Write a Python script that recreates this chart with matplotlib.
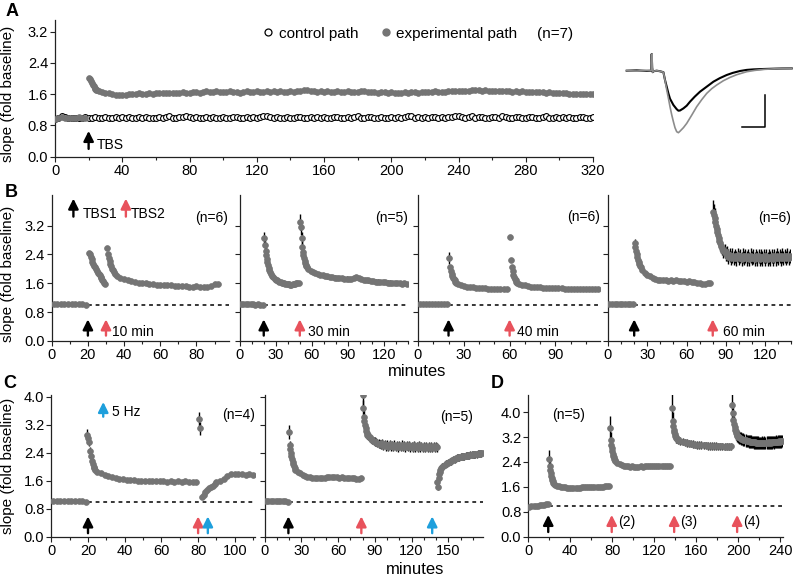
import numpy as np
import matplotlib
matplotlib.use("Agg")
import matplotlib.pyplot as plt
from matplotlib.lines import Line2D

plt.rcParams['font.family'] = ['Liberation Sans', 'DejaVu Sans']
plt.rcParams['font.size'] = 10

### Data (slope, fold baseline)
# segments are sampled on a regular grid: (start minute, step, values)

# A - control path, every 2 min from 0
a_ctrl = [0.97, 0.99, 1.03, 1.01, 0.99, 0.98, 1.00, 0.99, 1.00, 1.01,
          0.99, 0.98, 1.01, 1.00, 0.99, 1.02, 1.00, 0.98, 1.01, 1.00,
          1.02, 0.99, 1.01, 0.98, 1.00, 1.02, 0.99, 1.01, 1.00, 0.98,
          1.00, 1.02, 0.99, 1.01, 1.03, 0.99, 1.00, 1.02, 1.01, 1.04,
          1.01, 0.99, 1.02, 1.00, 0.98, 1.01, 0.99, 1.02, 1.00, 0.99,
          1.01, 1.00, 0.98, 1.01, 1.02, 0.99, 1.00, 1.01, 0.99, 1.02,
          1.00, 1.02, 1.04, 1.05, 1.01, 0.99, 1.02, 1.00, 0.98, 1.01,
          1.00, 0.99, 1.01, 1.02, 1.00, 0.98, 1.01, 1.00, 1.02, 0.99,
          1.01, 1.00, 0.99, 1.02, 1.01, 0.98, 1.00, 1.02, 0.99, 1.01,
          1.03, 1.00, 0.99, 1.01, 1.02, 1.00, 0.98, 1.01, 1.00, 0.99,
          1.01, 1.00, 1.02, 0.99, 1.01, 1.05, 1.03, 1.00, 1.02, 0.99,
          1.01, 1.00, 1.02, 1.01, 0.99, 1.02, 1.00, 1.01, 1.02, 1.05,
          1.04, 1.02, 1.00, 1.01, 1.03, 0.99, 1.01, 1.02, 1.00, 0.99,
          1.01, 1.02, 1.00, 1.03, 1.01, 0.99, 1.00, 1.02, 1.01, 0.99,
          1.00, 1.02, 1.01, 0.99, 1.00, 1.01, 1.03, 1.00, 0.99, 1.01,
          1.00, 1.02, 0.99, 1.01, 1.00, 0.99, 1.01, 1.02, 1.00, 0.99,
          1.01]
# A - experimental path
a_exp_base = [0.97, 0.99, 1.01, 0.98, 1.00, 0.99, 1.00, 1.01, 0.99, 1.00]
a_exp_early = [2.02, 1.98, 1.93, 1.88, 1.84, 1.80, 1.77, 1.74, 1.72, 1.70]
a_exp_late = [1.68, 1.66, 1.63, 1.62, 1.60, 1.59, 1.58, 1.57, 1.58, 1.60,
              1.61, 1.60, 1.62, 1.61, 1.60, 1.62, 1.61, 1.62, 1.63, 1.62,
              1.64, 1.63, 1.62, 1.64, 1.63, 1.65, 1.64, 1.63, 1.65, 1.66,
              1.64, 1.66, 1.67, 1.66, 1.65, 1.67, 1.66, 1.65, 1.66, 1.67,
              1.65, 1.66, 1.64, 1.66, 1.67, 1.65, 1.66, 1.67, 1.66, 1.65,
              1.67, 1.66, 1.68, 1.66, 1.67, 1.65, 1.66, 1.67, 1.66, 1.68,
              1.69, 1.71, 1.72, 1.69, 1.67, 1.66, 1.67, 1.66, 1.67, 1.65,
              1.66, 1.67, 1.66, 1.65, 1.67, 1.66, 1.65, 1.66, 1.67, 1.68,
              1.66, 1.65, 1.66, 1.64, 1.65, 1.66, 1.64, 1.65, 1.64, 1.63,
              1.64, 1.65, 1.64, 1.65, 1.66, 1.64, 1.65, 1.66, 1.65, 1.66,
              1.67, 1.66, 1.65, 1.66, 1.67, 1.68, 1.67, 1.68, 1.69, 1.68,
              1.69, 1.70, 1.71, 1.70, 1.69, 1.70, 1.69, 1.68, 1.69, 1.68,
              1.67, 1.68, 1.67, 1.66, 1.67, 1.66, 1.67, 1.66, 1.65, 1.66,
              1.65, 1.66, 1.65, 1.64, 1.65, 1.64, 1.63, 1.64, 1.63, 1.62,
              1.61, 1.60, 1.61, 1.60, 1.61, 1.60, 1.61, 1.60]

# A inset - example EPSCs (time, amplitude in arbitrary units)
tr_black_t = [0, 10, 20, 24.5, 25, 25.5, 26, 27, 30, 33, 36.7, 38.3, 40, 41.7, 43.3, 46.7, 50, 51.7,
              53.3, 56.7, 60, 63.3, 68, 73.3, 80, 86.7, 93, 100, 106, 113.3, 120, 126.7, 136.7, 146.7, 155, 165]
tr_black = [0, 0.3, -0.2, 0, 16.7, 3, -1.5, -0.5, 0, -0.5, -1.5, -9.3, -16, -22.7, -28, -34.3, -38.5, -40,
            -39.8, -37.7, -35, -31, -26, -21, -16, -11, -7.5, -4.3, -2.2, -0.3, 0.8, 1.3, 1.7, 2, 2.2, 2.3]
tr_gray_t = [0, 10, 20, 24.5, 25, 25.5, 26, 27, 30, 33, 36.7, 38.3, 40, 41.7, 43.3, 45, 46.7, 48.3, 50,
             51.7, 53.3, 56.7, 60, 65, 70, 75, 80, 85, 90, 96.7, 103.3, 110, 120, 128, 136.7, 150, 165]
tr_gray = [0, -0.3, 0.2, 0, 16.7, 3, -1.5, -0.5, 0, -0.5, -1.5, -9.5, -19, -27.5, -36, -44, -51, -57, -61,
           -62, -60.5, -57, -52.7, -44.5, -36, -29, -22.7, -18, -14.3, -10, -6.7, -4, -1, 0.3, 1.3, 2, 2.3]

# B1 - TBS2 10 min after TBS1
b1_base = [1.04, 1.03, 1.04, 1.03, 1.02, 1.04, 1.03, 1.04, 1.03, 1.00]
b1_s1 = [2.45, 2.40, 2.34, 2.27, 2.20, 2.14, 2.09, 2.04, 1.99, 1.95,
         1.90, 1.86, 1.82, 1.78, 1.74, 1.70, 1.66, 1.62, 1.59]
b1_s2_early = [2.57, 2.40, 2.30, 2.22, 2.14, 2.07, 2.01, 1.96, 1.91, 1.87]
b1_s2_late = [1.80, 1.75, 1.71, 1.68, 1.66, 1.64, 1.62, 1.61, 1.60, 1.58,
              1.57, 1.56, 1.56, 1.55, 1.54, 1.54, 1.53, 1.53, 1.52, 1.52,
              1.51, 1.51, 1.52, 1.51, 1.50, 1.51, 1.53, 1.57, 1.59]

# B2 - 30 min
b2_base = [1.03, 1.02, 1.03, 1.02, 1.03, 1.02, 1.01, 1.02, 1.01, 1.00]
b2_s1_early = [2.85, 2.65, 2.50, 2.38, 2.27, 2.18, 2.10, 2.03, 1.97, 1.92]
b2_s1_late = [1.86, 1.81, 1.77, 1.73, 1.70, 1.68, 1.66, 1.65, 1.64, 1.62,
              1.61, 1.60, 1.59, 1.58, 1.58, 1.57, 1.56, 1.56, 1.57, 1.58,
              1.59, 1.60, 1.60, 1.61]
b2_s1_sem = [0.16, 0.14, 0.12, 0.11, 0.10, 0.09, 0.09, 0.08, 0.08, 0.07]
b2_s2_early = [3.31, 3.15, 2.85, 2.62, 2.48, 2.38, 2.30, 2.23, 2.17, 2.12, 2.08, 2.04]
b2_s2_late = [2.00, 1.95, 1.91, 1.88, 1.86, 1.84, 1.82, 1.80, 1.79, 1.78,
              1.77, 1.76, 1.75, 1.75, 1.74, 1.73, 1.73, 1.72, 1.72, 1.74,
              1.77, 1.75, 1.72, 1.70, 1.69, 1.68, 1.67, 1.66, 1.65, 1.65,
              1.64, 1.63, 1.63, 1.62, 1.62, 1.61, 1.61, 1.60, 1.60, 1.59,
              1.60, 1.59]
b2_s2_sem = [0.22, 0.20, 0.18, 0.15, 0.13, 0.12, 0.11, 0.10, 0.09, 0.09, 0.08, 0.08]

# B3 - 40 min
b3_base = [1.02, 1.03, 1.02, 1.03, 1.03, 1.02, 1.03, 1.02, 1.03, 1.02]
b3_s1_early = [2.31, 2.05, 1.95, 1.87, 1.81, 1.76, 1.72, 1.68, 1.65, 1.62]
b3_s1_late = [1.59, 1.56, 1.53, 1.51, 1.50, 1.49, 1.48, 1.47, 1.46, 1.46,
              1.45, 1.45, 1.44, 1.44, 1.44, 1.43, 1.43]
b3_s1_sem = [0.17, 0.06, 0.05, 0.04, 0.04, 0.03, 0.03, 0.03, 0.03, 0.03]
b3_s2_early = [2.88, 2.25, 2.05, 1.93, 1.84, 1.77, 1.72, 1.68, 1.64, 1.61]
b3_s2_late = [1.58, 1.56, 1.54, 1.52, 1.51, 1.50, 1.49, 1.49, 1.48, 1.48,
              1.47, 1.47, 1.46, 1.46, 1.46, 1.45, 1.45, 1.45, 1.44, 1.45,
              1.44, 1.44, 1.45, 1.44, 1.44, 1.45, 1.44]

# B4 - 60 min
b4_base = [1.02, 1.03, 1.02, 1.03, 1.02, 1.03, 1.02, 1.03, 1.03, 1.02]
b4_s1_early = [2.71, 2.60, 2.50, 2.41, 2.33, 2.26, 2.20, 2.14, 2.09, 2.04]
b4_s1_late = [1.97, 1.90, 1.84, 1.79, 1.75, 1.72, 1.70, 1.69, 1.68, 1.68,
              1.67, 1.68, 1.67, 1.68, 1.67, 1.66, 1.66, 1.65, 1.66, 1.65,
              1.63, 1.61, 1.60, 1.58, 1.59, 1.61, 1.62]
b4_s1_sem = [0.12, 0.10, 0.08, 0.07, 0.06, 0.05, 0.05, 0.04, 0.04, 0.04]
b4_s2_early = [3.59, 3.50, 3.40, 3.30, 3.20, 3.11, 3.02, 2.94, 2.86, 2.78, 2.71, 2.64]
b4_s2_late = [2.58, 2.50, 2.49, 2.41, 2.43, 2.34, 2.39, 2.31, 2.37, 2.30,
              2.36, 2.29, 2.38, 2.31, 2.35, 2.28, 2.37, 2.30, 2.36, 2.29,
              2.35, 2.27, 2.37, 2.30, 2.34, 2.28, 2.36, 2.29, 2.35, 2.27,
              2.34, 2.29, 2.36, 2.28, 2.35, 2.27, 2.34, 2.29, 2.36, 2.28,
              2.35, 2.29, 2.37, 2.30, 2.36, 2.29, 2.37, 2.31, 2.36, 2.30,
              2.37, 2.31, 2.36]
b4_s2_sem = [0.33, 0.30, 0.28, 0.26, 0.25, 0.24, 0.23, 0.22, 0.22, 0.21, 0.21, 0.20]

# C1 - TBS, TBS2, then 5 Hz
c1_base = [1.03, 1.02, 1.03, 1.01, 1.02, 1.01, 1.03, 1.02, 1.01, 1.00]
c1_s1_early = [2.91, 2.82, 2.70, 2.45, 2.30, 2.17, 2.08, 2.00, 1.95, 1.91]
c1_s1_late = [1.86, 1.81, 1.77, 1.73, 1.70, 1.67, 1.65, 1.64, 1.63, 1.62,
              1.61, 1.60, 1.60, 1.59, 1.59, 1.58, 1.59, 1.58, 1.58, 1.57,
              1.58, 1.57, 1.58, 1.57, 1.58, 1.57, 1.56, 1.57]
c1_s1_sem = [0.18, 0.15, 0.12, 0.10, 0.08, 0.07, 0.06, 0.05, 0.05, 0.04]
c1_s2 = [3.35, 3.10]
c1_s2_sem = [0.22, 0.18]
c1_s3_early = [1.14, 1.20, 1.27, 1.33, 1.38, 1.42, 1.46, 1.50]
c1_s3_late = [1.55, 1.60, 1.66, 1.73, 1.78, 1.79, 1.78, 1.79, 1.77, 1.78, 1.77]

# C2 - TBS, TBS2, then 5 Hz
c2_base = [1.02, 1.03, 1.02, 1.02, 1.03, 1.01, 1.02, 1.01, 1.02, 1.00]
c2_s1_early = [3.00, 2.62, 2.50, 2.40, 2.30, 2.21, 2.14, 2.07, 2.01, 1.96]
c2_s1_late = [1.92, 1.86, 1.81, 1.77, 1.74, 1.72, 1.70, 1.69, 1.68, 1.68,
              1.67, 1.68, 1.69, 1.70, 1.71, 1.70, 1.71, 1.70, 1.69, 1.70,
              1.69, 1.68, 1.69, 1.68, 1.67, 1.66, 1.65, 1.67]
c2_s1_sem = [0.20, 0.12, 0.10, 0.08, 0.07, 0.06, 0.05, 0.05, 0.04, 0.04]
c2_s2_early = [4.05, 3.67, 3.43, 3.30, 3.19, 3.10, 3.03, 2.97, 2.92, 2.88]
c2_s2_late = [2.84, 2.80, 2.77, 2.74, 2.72, 2.70, 2.68, 2.66, 2.65, 2.64,
              2.67, 2.60, 2.65, 2.58, 2.63, 2.57, 2.64, 2.58, 2.62, 2.56,
              2.63, 2.57, 2.62, 2.55, 2.61, 2.57, 2.63, 2.56, 2.62, 2.55,
              2.61, 2.56, 2.62, 2.55, 2.60, 2.54, 2.61, 2.55, 2.60, 2.54,
              2.61, 2.55, 2.60, 2.53, 2.59, 2.54, 2.60, 2.53, 2.59, 2.54,
              2.60, 2.53, 2.59, 2.54, 2.60, 2.55]
c2_s2_sem = [0.35, 0.25, 0.20, 0.18, 0.16, 0.15, 0.14, 0.13, 0.13, 0.12]
c2_s3_early = [1.57, 1.43, 1.68, 1.78, 1.85, 1.91, 1.96, 2.00]
c2_s3_late = [2.02, 2.05, 2.08, 2.10, 2.12, 2.14, 2.16, 2.18, 2.20, 2.22,
              2.24, 2.25, 2.26, 2.27, 2.28, 2.29, 2.30, 2.30, 2.31, 2.32,
              2.32, 2.33, 2.34, 2.34, 2.35, 2.35, 2.36, 2.36, 2.37, 2.37,
              2.38, 2.38, 2.39]
c2_s3_sem = [0.10, 0.10, 0.10, 0.10, 0.10, 0.10, 0.10, 0.10]

# D - four TBS episodes
d_base = [0.96, 0.97, 0.98, 0.99, 1.00, 1.01, 1.02, 1.03, 1.04, 1.05]
d_s1_early = [2.49, 2.27, 2.15, 2.05, 1.96, 1.89, 1.83, 1.78, 1.74, 1.70]
d_s1_late = [1.67, 1.64, 1.62, 1.60, 1.59, 1.58, 1.57, 1.57, 1.56, 1.56,
             1.57, 1.56, 1.57, 1.58, 1.58, 1.59, 1.58, 1.59, 1.60, 1.59,
             1.60, 1.61, 1.60, 1.61, 1.62, 1.63, 1.64]
d_s1_sem = [0.28, 0.15, 0.10, 0.08, 0.06, 0.05, 0.05, 0.04, 0.04, 0.04]
d_s2_early = [3.49, 3.11, 2.95, 2.84, 2.75, 2.67, 2.60, 2.55, 2.50, 2.46]
d_s2_late = [2.42, 2.37, 2.33, 2.30, 2.28, 2.27, 2.26, 2.25, 2.26, 2.25,
             2.24, 2.25, 2.26, 2.25, 2.26, 2.27, 2.26, 2.27, 2.26, 2.27,
             2.28, 2.27, 2.26, 2.27, 2.28, 2.27, 2.27]
d_s2_sem = [0.38, 0.25, 0.20, 0.15, 0.12, 0.10, 0.09, 0.08, 0.07, 0.07]
d_s3_early = [4.13, 3.70, 3.55, 3.43, 3.35, 3.29, 3.24, 3.20, 3.16, 3.13]
d_s3_late = [3.10, 3.07, 3.05, 3.03, 3.01, 3.00, 2.99, 2.97, 2.96, 2.95,
             2.95, 2.94, 2.93, 2.93, 2.92, 2.92, 2.91, 2.91, 2.91, 2.90,
             2.90, 2.90, 2.89, 2.90, 2.89, 2.90]
d_s3_sem = [0.50, 0.30, 0.20, 0.18, 0.16, 0.15, 0.15, 0.14, 0.14, 0.13]
d_s4_early = [4.23, 3.97, 3.75, 3.62, 3.52, 3.44, 3.38, 3.33, 3.28, 3.24]
d_s4_late = [3.21, 3.19, 3.17, 3.15, 3.13, 3.12, 3.10, 3.09, 3.08, 3.07,
             3.06, 3.05, 3.05, 3.04, 3.04, 3.03, 3.03, 3.02, 3.02, 3.02,
             3.01, 3.01, 3.01, 3.02, 3.01, 3.02, 3.01, 3.02, 3.03, 3.02,
             3.03, 3.02, 3.03, 3.04, 3.03, 3.04, 3.05, 3.04, 3.05, 3.06,
             3.05, 3.06, 3.07]
d_s4_sem = [0.45, 0.35, 0.30, 0.26, 0.24, 0.22, 0.22, 0.21, 0.20, 0.20]

### Style
GRAY = '#747474'
RED = '#e8525c'
BLUE = '#1e9fdc'
W, H = 800, 581


def px_axes(fig, x0, y0, x1, y1):
    return fig.add_axes([x0 / W, 1 - y1 / H, (x1 - x0) / W, (y1 - y0) / H])


def style(ax, xlim, ylim, xmaj, xmin, yticks, ylab=True):
    for s in ['top', 'right']:
        ax.spines[s].set_visible(False)
    for s in ['left', 'bottom']:
        ax.spines[s].set_linewidth(0.9)
        ax.spines[s].set_color('#222222')
    ax.set_xlim(*xlim)
    ax.set_ylim(*ylim)
    ax.set_xticks(np.arange(xlim[0], xlim[1] + 0.01, xmaj))
    ax.set_xticks(np.arange(xlim[0], xlim[1] + 0.01, xmin), minor=True)
    ax.set_yticks(yticks)
    ax.tick_params(direction='out', length=3.5, width=0.8, labelsize=10.5, pad=1.5, color='#222222')
    ax.tick_params(which='minor', direction='out', length=2.5, width=0.8, color='#222222')
    ax.set_yticklabels([f'{v:.1f}' for v in yticks] if ylab else [])
    ax.patch.set_alpha(0)


def series(ax, parts, sem=None, late_sem=0.0):
    t = np.concatenate([t0 + step * np.arange(len(v)) for t0, step, v in parts])
    y = np.concatenate([np.asarray(v, float) for _, _, v in parts])
    if sem is not None:
        e = np.r_[sem, np.full(len(y) - len(sem), late_sem)]
        ax.errorbar(t, y, yerr=e, fmt='none', ecolor='black', elinewidth=1.0, capsize=0, zorder=2)
    ax.plot(t, y, 'o', ms=4.2, color=GRAY, mec=GRAY, mew=0.5, zorder=3)


def up_arrow(ax, t, y0, y1, color='black'):
    ax.annotate('', xy=(t, y1), xytext=(t, y0),
                arrowprops=dict(arrowstyle='-|>,head_width=0.3,head_length=0.6',
                                color=color, lw=1.7, shrinkA=0, shrinkB=0))


def dashed(ax, t0):
    ax.plot([t0, ax.get_xlim()[1]], [1.0, 1.0], ls=(0, (2.5, 2.5)), color='black', lw=1.1, zorder=1)


fig = plt.figure(figsize=(8, 5.81), dpi=100)
ylab = 'slope (fold baseline)'

### Panel A
ax = px_axes(fig, 55, 20, 593, 156.7)
style(ax, (0, 320), (0, 3.5), 40, 20, [0, 0.8, 1.6, 2.4, 3.2])
ax.plot(np.arange(len(a_ctrl)) * 2, a_ctrl, 'o', ms=4.2, mfc='white', mec='black', mew=0.8, zorder=3)
series(ax, [(0, 2, a_exp_base), (20.5, 0.5, a_exp_early), (26, 2, a_exp_late)])
up_arrow(ax, 20, 0.2, 0.66)
ax.text(25, 0.30, 'TBS', va='center', fontsize=10)
ax.set_ylabel(ylab, fontsize=11)
ax.yaxis.set_label_coords(-0.074, 0.46)
handles = [Line2D([], [], ls='', marker='o', ms=5, mfc='white', mec='black', mew=0.9),
           Line2D([], [], ls='', marker='o', ms=5, color=GRAY)]
ax.legend(handles, ['control path', 'experimental path'], ncol=2, frameon=False,
          loc='center left', bbox_to_anchor=(0.37, 0.9), fontsize=11,
          handletextpad=0.2, columnspacing=1.3, handlelength=1.0, borderaxespad=0)
ax.text(0.896, 0.9, '(n=7)', transform=ax.transAxes, va='center', fontsize=11)

# inset traces
axi = px_axes(fig, 620, 40, 800, 140)
axi.set_xlim(-6.7, 173.3)
axi.set_ylim(-69.3, 30.7)
axi.axis('off')
axi.plot(tr_black_t, tr_black, color='black', lw=1.5)
axi.plot(tr_gray_t, tr_gray, color='#8c8c8c', lw=1.2)
axi.plot([138.3, 138.3, 115], [-24.3, -56, -56], color='black', lw=1.1)

### Panel B
bx = [(51.7, 229, 98, 20), (239.7, 408, 140, 30), (418, 599.7, 119, 30), (608, 791.3, 140, 30)]
b_axes = []
for i, (x0, x1, xmax, maj) in enumerate(bx):
    ax = px_axes(fig, x0, 195, x1, 341)
    style(ax, (0, xmax), (0, 4.05), maj, 10, [0, 0.8, 1.6, 2.4, 3.2], ylab=(i == 0))
    dashed(ax, 20)
    up_arrow(ax, 20, 0.15, 0.6)
    b_axes.append(ax)

ax = b_axes[0]
series(ax, [(1, 2, b1_base), (20.5, 0.5, b1_s1), (30.5, 0.5, b1_s2_early), (36, 2, b1_s2_late)])
up_arrow(ax, 30, 0.15, 0.6, RED)
ax.text(33.3, 0.25, '10 min', va='center', fontsize=10)
up_arrow(ax, 12, 3.45, 3.95)
ax.text(17.3, 3.53, 'TBS1', va='center', fontsize=10)
up_arrow(ax, 41, 3.45, 3.95, RED)
ax.text(43.6, 3.53, 'TBS2', va='center', fontsize=10)
ax.text(97.5, 3.4, '(n=6)', ha='right', va='center', fontsize=10)
ax.set_ylabel(ylab, fontsize=11)
ax.yaxis.set_label_coords(-0.207, 0.46)

ax = b_axes[1]
series(ax, [(1, 2, b2_base)])
series(ax, [(20.5, 0.5, b2_s1_early), (26, 1, b2_s1_late)], b2_s1_sem, 0.06)
series(ax, [(50.5, 0.5, b2_s2_early), (57, 2, b2_s2_late)], b2_s2_sem, 0.06)
up_arrow(ax, 50, 0.15, 0.6, RED)
ax.text(57, 0.25, '30 min', va='center', fontsize=10)
ax.text(140, 3.4, '(n=5)', ha='right', va='center', fontsize=10)

ax = b_axes[2]
series(ax, [(1, 2, b3_base)])
series(ax, [(20.5, 0.5, b3_s1_early), (26, 2, b3_s1_late)], b3_s1_sem, 0.03)
series(ax, [(60.5, 0.5, b3_s2_early), (66, 2, b3_s2_late)])
up_arrow(ax, 60, 0.15, 0.6, RED)
ax.text(65, 0.25, '40 min', va='center', fontsize=10)
ax.text(119, 3.45, '(n=6)', ha='right', va='center', fontsize=10)

ax = b_axes[3]
series(ax, [(1, 2, b4_base)])
series(ax, [(20.5, 0.5, b4_s1_early), (26, 2, b4_s1_late)], b4_s1_sem, 0.03)
series(ax, [(80.5, 0.5, b4_s2_early), (87, 1, b4_s2_late)], b4_s2_sem, 0.2)
up_arrow(ax, 80, 0.15, 0.6, RED)
ax.text(88, 0.25, '60 min', va='center', fontsize=10)
ax.text(140, 3.4, '(n=6)', ha='right', va='center', fontsize=10)

### Panel C
ax = px_axes(fig, 51.3, 395, 255, 536.7)
style(ax, (0, 111), (0, 4.05), 20, 10, [0, 0.8, 1.6, 2.4, 3.2, 4.0])
dashed(ax, 20)
series(ax, [(1, 2, c1_base)])
series(ax, [(19.5, 0.5, c1_s1_early), (25, 2, c1_s1_late)], c1_s1_sem, 0.03)
series(ax, [(80.3, 0.7, c1_s2)], c1_s2_sem)
series(ax, [(82, 1, c1_s3_early), (90, 2, c1_s3_late)])
up_arrow(ax, 20, 0.1, 0.58)
up_arrow(ax, 80, 0.1, 0.58, RED)
up_arrow(ax, 85.3, 0.1, 0.58, BLUE)
up_arrow(ax, 28.3, 3.43, 3.85, BLUE)
ax.text(33, 3.55, '5 Hz', va='center', fontsize=10)
ax.text(111, 3.48, '(n=4)', ha='right', va='center', fontsize=10)
ax.set_ylabel(ylab, fontsize=11)
ax.yaxis.set_label_coords(-0.178, 0.5)

ax = px_axes(fig, 264.5, 395, 482.7, 536.7)
style(ax, (0, 178), (0, 4.05), 30, 10, [0, 0.8, 1.6, 2.4, 3.2, 4.0], ylab=False)
dashed(ax, 20)
series(ax, [(1, 2, c2_base)])
series(ax, [(20, 0.5, c2_s1_early), (25, 2, c2_s1_late)], c2_s1_sem, 0.03)
series(ax, [(80, 0.5, c2_s2_early), (86, 1, c2_s2_late)], c2_s2_sem, 0.12)
series(ax, [(141, 0.5, c2_s3_early), (146, 1, c2_s3_late)], c2_s3_sem, 0.1)
up_arrow(ax, 19.5, 0.1, 0.58)
up_arrow(ax, 79, 0.1, 0.58, RED)
up_arrow(ax, 136.8, 0.1, 0.58, BLUE)
ax.text(170, 3.43, '(n=5)', ha='right', va='center', fontsize=10)

### Panel D
ax = px_axes(fig, 528.3, 395, 783.3, 536.7)
style(ax, (0, 243), (0, 4.55), 40, 20, [0, 0.8, 1.6, 2.4, 3.2, 4.0])
ax.set_xticks(np.arange(0, 241, 40))
dashed(ax, 20)
series(ax, [(1, 2, d_base)])
series(ax, [(20, 0.5, d_s1_early), (25, 2, d_s1_late)], d_s1_sem, 0.03)
series(ax, [(78, 0.5, d_s2_early), (83, 2, d_s2_late)], d_s2_sem, 0.06)
series(ax, [(137, 0.5, d_s3_early), (143, 2, d_s3_late)], d_s3_sem, 0.12)
series(ax, [(194.5, 0.5, d_s4_early), (200, 1, d_s4_late)], d_s4_sem, 0.2)
up_arrow(ax, 19, 0.15, 0.7)
for t, lab in [(79.5, '(2)'), (139, '(3)'), (199, '(4)')]:
    up_arrow(ax, t, 0.15, 0.7, RED)
    ax.text(t + 6, 0.46, lab, va='center', fontsize=10)
ax.text(22.3, 3.91, '(n=5)', va='center', fontsize=10)

### Labels
for lab, x, y in [('A', 12, 12), ('B', 11, 192), ('C', 10, 383), ('D', 497, 384)]:
    fig.text(x / W, 1 - y / H, lab, ha='center', va='center', fontsize=13, fontweight='bold')
fig.text(417 / W, 1 - 371 / H, 'minutes', ha='center', va='center', fontsize=12)
fig.text(415 / W, 1 - 570 / H, 'minutes', ha='center', va='center', fontsize=12)

fig.savefig('out.png', dpi=100)
